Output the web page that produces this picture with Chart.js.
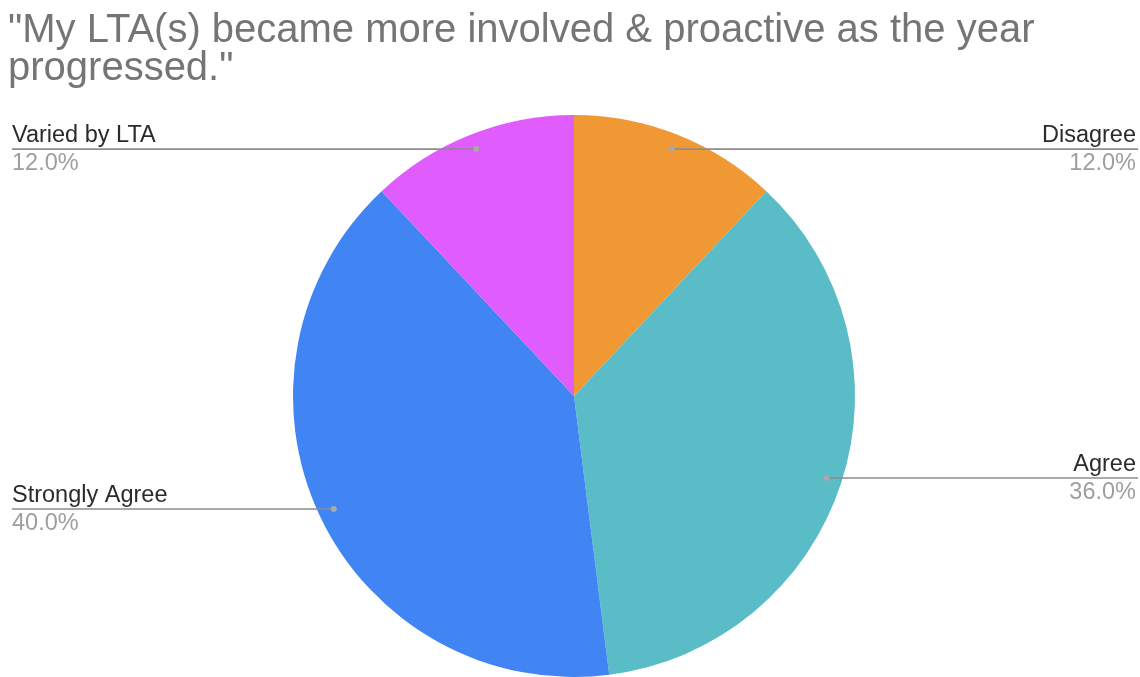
<!DOCTYPE html>
<html>
<head>
<meta charset="utf-8">
<script src="https://cdn.jsdelivr.net/npm/chart.js@4/dist/chart.umd.min.js"></script>
<style>
  html, body { margin: 0; padding: 0; background: #fff; }
  #wrap { width: 1140px; height: 677px; }
</style>
</head>
<body>
<div id="wrap"><canvas id="pieChart"></canvas></div>
<script>
const categories = ['Disagree', 'Agree', 'Strongly Agree', 'Varied by LTA'];
const shares = [12, 36, 40, 12];
const sliceColors = ['#f09833', '#59bcc6', '#4184f3', '#e15cfd'];
const titleLines = ['"My LTA(s) became more involved & proactive as the year', 'progressed."'];

// leader lines + two-line labels drawn out to the canvas edges
const leaderLabels = {
  id: 'leaderLabels',
  afterDatasetsDraw(chart) {
    const ctx = chart.ctx;
    const meta = chart.getDatasetMeta(0);
    const total = shares.reduce((a, b) => a + b, 0);
    const W = chart.width;
    ctx.save();
    meta.data.forEach((arc, i) => {
      const p = arc.getProps(['x', 'y', 'startAngle', 'endAngle', 'outerRadius'], true);
      const mid = (p.startAngle + p.endAngle) / 2;
      const r = p.outerRadius * 0.945;
      const dx = p.x + Math.cos(mid) * r;
      const dy = p.y + Math.sin(mid) * r;
      const right = Math.cos(mid) > 0;
      const edge = right ? W - 2 : 12;

      ctx.strokeStyle = '#8d8d8d';
      ctx.lineWidth = 1.6;
      ctx.beginPath();
      ctx.moveTo(dx, dy);
      ctx.lineTo(edge, dy);
      ctx.stroke();

      ctx.fillStyle = '#a8a8a8';
      ctx.beginPath();
      ctx.arc(dx, dy, 3, 0, Math.PI * 2);
      ctx.fill();

      ctx.textAlign = right ? 'right' : 'left';
      ctx.textBaseline = 'alphabetic';
      const tx = right ? W - 4 : 12;
      ctx.font = '23.5px "Liberation Sans", Arial, sans-serif';
      ctx.fillStyle = '#2b2b2b';
      ctx.fillText(categories[i], tx, dy - 7);
      ctx.fillStyle = '#9e9e9e';
      ctx.fillText((shares[i] / total * 100).toFixed(1) + '%', tx, dy + 21);
    });
    ctx.restore();
  }
};

new Chart(document.getElementById('pieChart'), {
  type: 'pie',
  data: {
    labels: categories,
    datasets: [{
      data: shares,
      backgroundColor: sliceColors,
      borderWidth: 0
    }]
  },
  options: {
    responsive: true,
    maintainAspectRatio: false,
    animation: false,
    layout: { padding: { top: 0, left: 8, right: 0, bottom: 0 } },
    plugins: {
      legend: { display: false },
      tooltip: { enabled: false },
      title: {
        display: true,
        text: titleLines,
        align: 'start',
        color: '#757575',
        font: { family: '"Liberation Sans", Arial, sans-serif', size: 40, weight: 'normal', lineHeight: 0.95 },
        padding: { top: 12, bottom: 27 }
      }
    }
  },
  plugins: [leaderLabels]
});
</script>
</body>
</html>
